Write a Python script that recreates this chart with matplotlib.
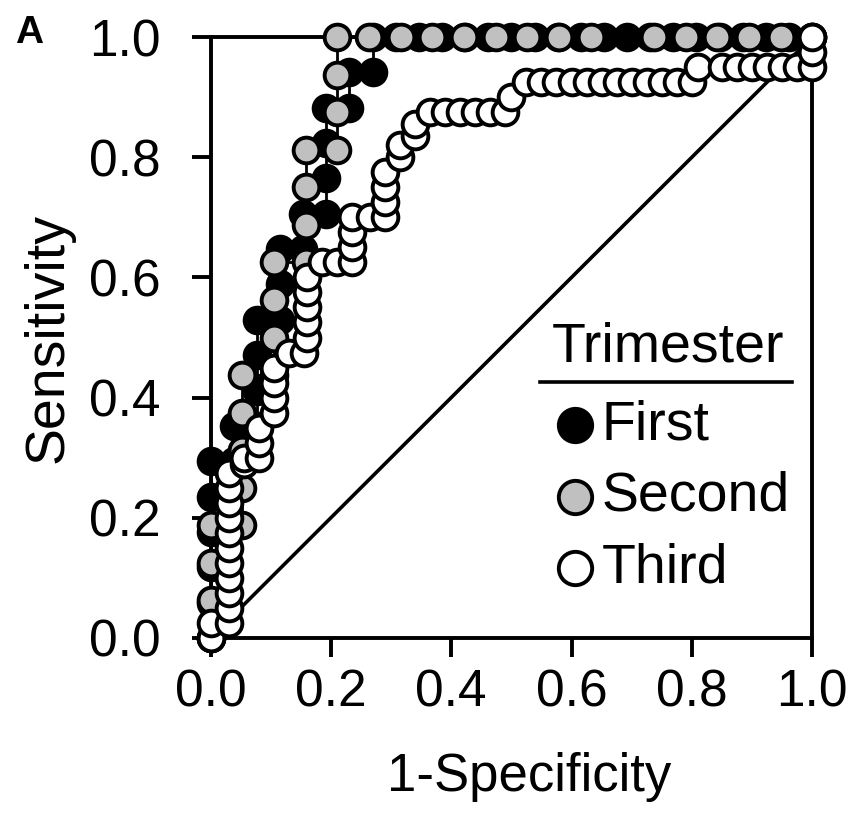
import matplotlib
matplotlib.use('Agg')
import matplotlib.pyplot as plt

plt.rcParams['font.family'] = ['Liberation Sans', 'DejaVu Sans']

# First trimester: 26 controls, 17 cases (steps)
first_fpr_steps = [0, 0, 0, 0, 0, 0, 1, 1, 2, 2, 2, 2, 3, 3, 3, 4, 4, 5, 5, 5, 5, 6, 6, 7, 7,
                   8, 9, 10, 11, 12, 13, 14, 15, 16, 17, 18, 19, 20, 21, 22, 23, 24, 25, 26]
first_tpr_steps = [0, 1, 2, 3, 4, 5, 5, 6, 6, 7, 8, 9, 9, 10, 11, 11, 12, 12, 13, 14, 15, 15, 16, 16, 17,
                   17, 17, 17, 17, 17, 17, 17, 17, 17, 17, 17, 17, 17, 17, 17, 17, 17, 17, 17]
first_x = [k / 26 for k in first_fpr_steps]
first_y = [m / 17 for m in first_tpr_steps]

# Second trimester: 19 controls, 16 cases
second_fpr_steps = [0, 0, 0, 0, 1, 1, 1, 1, 1, 2, 2, 2, 2, 3, 3, 3, 3, 4, 4, 4, 4,
                    5, 6, 7, 8, 9, 10, 11, 12, 14, 15, 16, 17, 18, 19]
second_tpr_steps = [0, 1, 2, 3, 3, 4, 5, 6, 7, 7, 8, 9, 10, 10, 11, 12, 13, 13, 14, 15, 16,
                    16, 16, 16, 16, 16, 16, 16, 16, 16, 16, 16, 16, 16, 16]
second_x = [k / 19 for k in second_fpr_steps]
second_y = [m / 16 for m in second_tpr_steps]

# Third trimester (estimated directly)
third_x = [0.0, 0.0,
           0.03, 0.03, 0.03, 0.03, 0.03, 0.03, 0.03, 0.03, 0.03, 0.03, 0.03,
           0.055, 0.055, 0.08, 0.08, 0.08,
           0.105, 0.105, 0.105, 0.105,
           0.13, 0.155,
           0.16, 0.16, 0.16, 0.16, 0.16,
           0.185, 0.21, 0.235,
           0.235, 0.235, 0.235,
           0.265, 0.29,
           0.29, 0.29, 0.29,
           0.315, 0.315, 0.34, 0.34,
           0.365, 0.39, 0.415, 0.44, 0.465, 0.49,
           0.50,
           0.525, 0.55, 0.575, 0.60, 0.625, 0.65, 0.675, 0.70, 0.725, 0.75, 0.775, 0.80,
           0.81, 0.85, 0.875, 0.90, 0.925, 0.95, 0.975, 1.0,
           1.0, 1.0]
third_y = [0.0, 0.025,
           0.025, 0.05, 0.075, 0.10, 0.125, 0.15, 0.175, 0.20, 0.225, 0.25, 0.275,
           0.29, 0.30, 0.30, 0.325, 0.35,
           0.375, 0.40, 0.425, 0.45,
           0.475, 0.475,
           0.50, 0.525, 0.55, 0.575, 0.60,
           0.625, 0.625, 0.625,
           0.65, 0.675, 0.70,
           0.70, 0.70,
           0.725, 0.75, 0.775,
           0.80, 0.82, 0.835, 0.855,
           0.875, 0.875, 0.875, 0.875, 0.875, 0.875,
           0.90,
           0.925, 0.925, 0.925, 0.925, 0.925, 0.925, 0.925, 0.925, 0.925, 0.925, 0.925, 0.925,
           0.95, 0.95, 0.95, 0.95, 0.95, 0.95, 0.95, 0.95,
           0.975, 1.0]

series = [
    ('First', first_x, first_y, 'black'),
    ('Second', second_x, second_y, '#c0c0c0'),
    ('Third', third_x, third_y, 'white'),
]

ticks = [0.0, 0.2, 0.4, 0.6, 0.8, 1.0]

fig = plt.figure(figsize=(8.51, 8.23), dpi=100)
ax = fig.add_axes([0.2474, 0.2248, 0.7070, 0.7302])

# reference line
ax.plot([0, 1], [0, 1], color='black', lw=2.6, zorder=1)

for i, (name, xs, ys, fc) in enumerate(series):
    ax.plot(xs, ys, color='black', lw=2, marker='o', markersize=18.5,
            markerfacecolor=fc, markeredgecolor='black', markeredgewidth=2.8,
            clip_on=False, zorder=3 + i)

ax.set_xlim(0, 1)
ax.set_ylim(0, 1)
ax.set_xticks(ticks)
ax.set_yticks(ticks)
ax.set_xticklabels([f'{t:.1f}' for t in ticks])
ax.set_yticklabels([f'{t:.1f}' for t in ticks])
ax.tick_params(direction='out', length=14, width=2.8, labelsize=37)
ax.tick_params(axis='x', pad=8)
ax.tick_params(axis='y', pad=22)
for sp in ax.spines.values():
    sp.set_linewidth(2.8)

ax.set_xlabel('1-Specificity', fontsize=38, labelpad=20)
ax.xaxis.set_label_coords(0.53, -0.19)
ax.set_ylabel('Sensitivity', fontsize=40, labelpad=10)

# legend drawn by hand to get the underlined title
ax.text(0.76, 0.484, 'Trimester', transform=ax.transAxes, fontsize=40,
        ha='center', va='center')
ax.plot([0.548, 0.967], [0.426, 0.426], transform=ax.transAxes, color='black',
        lw=2.6, clip_on=False)
legend_y = [0.354, 0.235, 0.116]
for (name, xs, ys, fc), ly in zip(series, legend_y):
    ax.plot([0.606], [ly], transform=ax.transAxes, marker='o', markersize=24,
            markerfacecolor=fc, markeredgecolor='black', markeredgewidth=2.8,
            linestyle='none', clip_on=False, zorder=10)
    ax.text(0.65, ly, name, transform=ax.transAxes, fontsize=40,
            ha='left', va='center')

fig.text(0.018, 0.982, 'A', fontsize=28, fontweight='bold', ha='left', va='top')

plt.savefig('out.png', dpi=100)
